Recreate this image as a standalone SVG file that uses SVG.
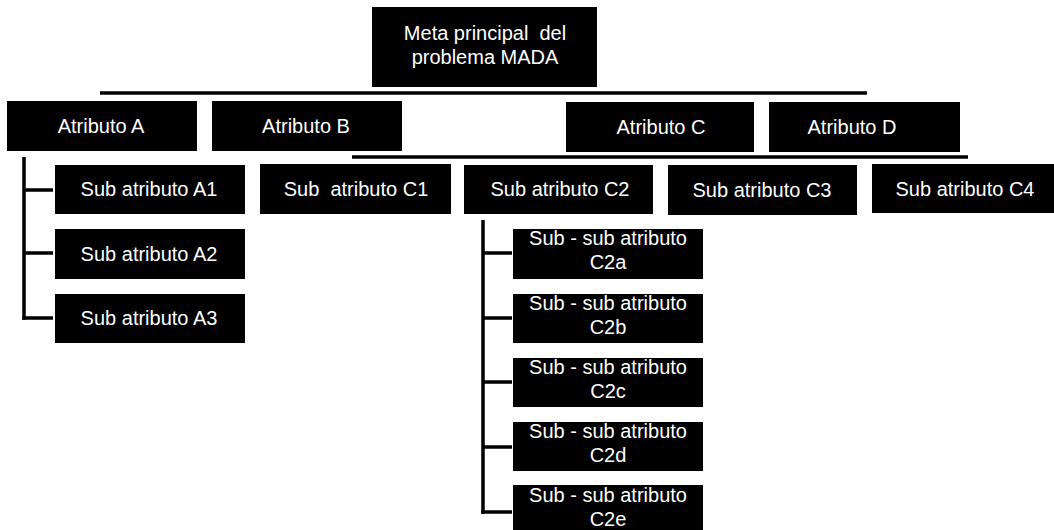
<svg xmlns="http://www.w3.org/2000/svg" width="1054" height="530" viewBox="0 0 1054 530">
  <style>
    .box { fill: #000; }
    .lbl { fill: #fff; font-family: "Liberation Sans", Arial, sans-serif; font-size: 20px; text-anchor: middle; }
    .wire { stroke: #000; stroke-width: 3.5; fill: none; stroke-linecap: butt; }
  </style>
  <rect width="1054" height="530" fill="#fff"/>

  <!-- connectors -->
  <g id="connectors">
    <line class="wire" x1="100" y1="93" x2="867" y2="93"/>
    <line class="wire" x1="352" y1="157" x2="968" y2="157"/>
    <!-- Atributo A branch -->
    <path class="wire" d="M24 157 V319.75"/>
    <path class="wire" d="M24 190 H53 M24 253 H53 M22.25 318 H53"/>
    <!-- Sub atributo C2 branch -->
    <path class="wire" d="M483 220 V513.75"/>
    <path class="wire" d="M483 253 H512 M483 318 H512 M483 382 H512 M483 447 H512 M481.25 512 H512"/>
  </g>

  <!-- root -->
  <g id="meta">
    <rect class="box" x="372" y="7" width="225" height="80"/>
    <text class="lbl" x="485" y="40" xml:space="preserve">Meta principal  del</text>
    <text class="lbl" x="485" y="64">problema MADA</text>
  </g>

  <!-- level 1 -->
  <g id="atributo-a">
    <rect class="box" x="7" y="101" width="190" height="50"/>
    <text class="lbl" x="101" y="133">Atributo A</text>
  </g>
  <g id="atributo-b">
    <rect class="box" x="212" y="101" width="190" height="50"/>
    <text class="lbl" x="306" y="133">Atributo B</text>
  </g>
  <g id="atributo-c">
    <rect class="box" x="566" y="102" width="188" height="50"/>
    <text class="lbl" x="661" y="134">Atributo C</text>
  </g>
  <g id="atributo-d">
    <rect class="box" x="769" y="102" width="191" height="50"/>
    <text class="lbl" x="852" y="134">Atributo D</text>
  </g>

  <!-- level 2 -->
  <g id="sub-a1">
    <rect class="box" x="55" y="165" width="190" height="49"/>
    <text class="lbl" x="149" y="196">Sub atributo A1</text>
  </g>
  <g id="sub-a2">
    <rect class="box" x="55" y="229" width="190" height="50"/>
    <text class="lbl" x="149" y="261">Sub atributo A2</text>
  </g>
  <g id="sub-a3">
    <rect class="box" x="55" y="294" width="190" height="49"/>
    <text class="lbl" x="149" y="325">Sub atributo A3</text>
  </g>
  <g id="sub-c1">
    <rect class="box" x="260" y="164" width="191" height="50"/>
    <text class="lbl" x="356" y="196" xml:space="preserve">Sub  atributo C1</text>
  </g>
  <g id="sub-c2">
    <rect class="box" x="464" y="165" width="189" height="49"/>
    <text class="lbl" x="560" y="196">Sub atributo C2</text>
  </g>
  <g id="sub-c3">
    <rect class="box" x="668" y="165" width="189" height="50"/>
    <text class="lbl" x="762" y="197">Sub atributo C3</text>
  </g>
  <g id="sub-c4">
    <rect class="box" x="872" y="164" width="182" height="49"/>
    <text class="lbl" x="965" y="196">Sub atributo C4</text>
  </g>

  <!-- level 3 under C2: two-line labels -->
  <g id="sub-c2a">
    <rect class="box" x="513" y="229" width="190" height="50"/>
    <text class="lbl" x="608" y="245">Sub - sub atributo</text>
    <text class="lbl" x="608" y="268.5">C2a</text>
  </g>
  <g id="sub-c2b">
    <rect class="box" x="513" y="294" width="190" height="49"/>
    <text class="lbl" x="608" y="310">Sub - sub atributo</text>
    <text class="lbl" x="608" y="333.5">C2b</text>
  </g>
  <g id="sub-c2c">
    <rect class="box" x="513" y="358" width="190" height="49"/>
    <text class="lbl" x="608" y="374">Sub - sub atributo</text>
    <text class="lbl" x="608" y="397.5">C2c</text>
  </g>
  <g id="sub-c2d">
    <rect class="box" x="513" y="422" width="190" height="49"/>
    <text class="lbl" x="608" y="438">Sub - sub atributo</text>
    <text class="lbl" x="608" y="461.5">C2d</text>
  </g>
  <g id="sub-c2e">
    <rect class="box" x="513" y="485" width="190" height="45"/>
    <text class="lbl" x="608" y="502">Sub - sub atributo</text>
    <text class="lbl" x="608" y="525.5">C2e</text>
  </g>
</svg>
